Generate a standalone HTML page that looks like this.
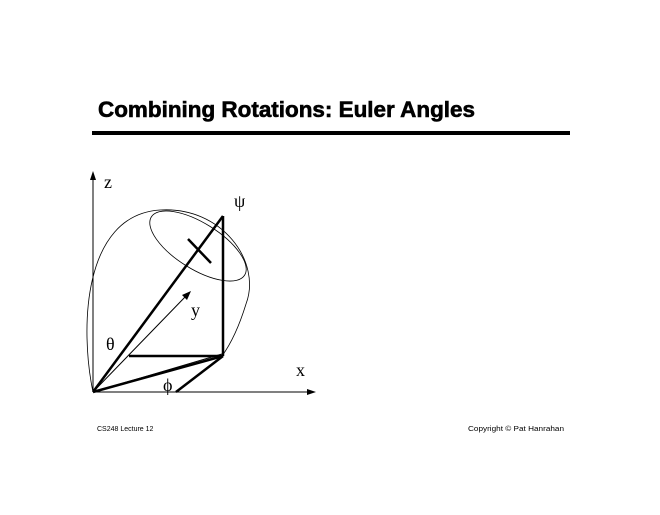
<!DOCTYPE html>
<html><head><style>html,body{margin:0;padding:0;background:#fff;}</style></head>
<body>
<svg width="660" height="510" viewBox="0 0 660 510" xmlns="http://www.w3.org/2000/svg">
<rect width="660" height="510" fill="#fff"/>
<text x="98" y="117" font-family="Liberation Sans, sans-serif" font-weight="bold" font-size="22" textLength="377" lengthAdjust="spacingAndGlyphs" stroke="#000" stroke-width="0.6">Combining Rotations: Euler Angles</text>
<rect x="92" y="131" width="478" height="4" fill="#000"/>
<g stroke="#000" fill="none">
<line x1="93" y1="392" x2="93" y2="178" stroke-width="1"/>
<polygon points="93,171 90,180 96,180" fill="#000" stroke="none"/>
<line x1="93" y1="392" x2="308" y2="392" stroke-width="1"/>
<polygon points="316,392 307,389 307,395" fill="#000" stroke="none"/>
<line x1="93" y1="392" x2="186" y2="296" stroke-width="1"/>
<polygon points="191,291 182,295 187,300" fill="#000" stroke="none"/>
<path d="M93,392 C80,330 82,215 160,210 C222,206 262,262 246,304 C238,330 230,345 222,356" stroke-width="0.8"/>
<ellipse cx="198" cy="246" rx="55" ry="23" transform="rotate(32 198 246)" stroke-width="0.8"/>
<g stroke-width="2.5">
<line x1="93" y1="392" x2="223" y2="216"/>
<line x1="223" y1="216" x2="223" y2="356"/>
<line x1="129" y1="356" x2="223" y2="356"/>
<line x1="93" y1="392" x2="223" y2="356"/>
<line x1="223" y1="356" x2="176" y2="392"/>
<line x1="188" y1="239" x2="211" y2="263"/>
</g>
<line x1="93" y1="392" x2="222" y2="354" stroke-width="1"/>
</g>
<g font-family="Liberation Serif, serif" font-size="18" fill="#000">
<text x="104" y="188">z</text>
<text x="234" y="207">ψ</text>
<text x="191" y="316">y</text>
<text x="106" y="350">θ</text>
<text x="296" y="376">x</text>
<text x="163" y="391">ϕ</text>
</g>
<g font-family="Liberation Sans, sans-serif" font-size="7" fill="#000">
<text x="97" y="431">CS248 Lecture 12</text>
<text x="468" y="431" textLength="96" lengthAdjust="spacingAndGlyphs">Copyright © Pat Hanrahan</text>
</g>
</svg>
</body></html>
